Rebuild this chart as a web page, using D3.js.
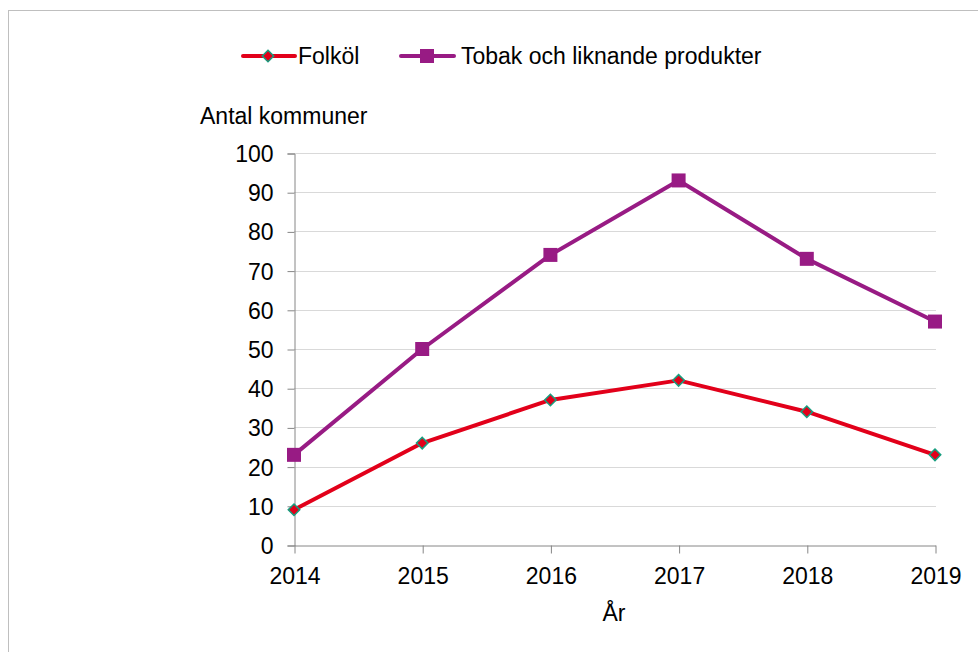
<!DOCTYPE html>
<html><head><meta charset="utf-8">
<script src="https://cdn.jsdelivr.net/npm/d3@7"></script>
<style>body{margin:0;background:#fff;}svg{display:block;}text{font-family:"Liberation Sans",Arial,sans-serif;fill:#000;}</style>
</head><body>
<svg id="c" width="978" height="652"></svg>
<script>
const years = [2014, 2015, 2016, 2017, 2018, 2019];
const folkol = [9, 26, 37, 42, 34, 23];
const tobak = [23, 50, 74, 93, 73, 57];
const yTicks = [0, 10, 20, 30, 40, 50, 60, 70, 80, 90, 100];
const seriesNames = ["Folköl", "Tobak och liknande produkter"];
const yTitle = "Antal kommuner";
const xTitle = "År";

const svg = d3.select("#c");
const fs = 23;
const ff = "Liberation Sans";
svg.append("rect").attr("x", 8.5).attr("y", 10.5).attr("width", 1000).attr("height", 700)
  .attr("fill", "#fff").attr("stroke", "#bfbfbf");

const x = d3.scalePoint().domain(years).range([294, 935]);
const y = d3.scaleLinear().domain([0, 100]).range([545, 153]);

// gridlines
svg.append("g").selectAll("line").data(yTicks.filter(d => d > 0)).join("line")
  .attr("x1", 294).attr("x2", 936).attr("y1", d => Math.round(y(d)) + 0.5).attr("y2", d => Math.round(y(d)) + 0.5)
  .attr("stroke", "#d9d9d9").attr("stroke-width", 1);

// y axis
const ya = svg.append("g").attr("transform", "translate(294.5,0.5)")
  .call(d3.axisLeft(y).tickValues(yTicks).tickSize(7).tickPadding(14));
ya.select(".domain").attr("stroke", "#868686");
ya.selectAll(".tick line").attr("stroke", "#868686");
ya.selectAll("text").style("font-size", fs + "px").style("font-family", ff).attr("fill", "#000").attr("dy", "0.35em");

// x axis
const xa = svg.append("g").attr("transform", "translate(0.5,545.5)")
  .call(d3.axisBottom(x).tickSize(8).tickPadding(14).tickFormat(d => String(d)).tickSizeOuter(0));
xa.select(".domain").attr("stroke", "#868686");
xa.selectAll(".tick line").attr("stroke", "#868686");
xa.selectAll("text").style("font-size", fs + "px").style("font-family", ff).attr("fill", "#000");

svg.append("text").attr("x", 200).attr("y", 124).style("font-size", fs + "px").text(yTitle);
svg.append("text").attr("x", 614).attr("y", 621).attr("text-anchor", "middle").style("font-size", fs + "px").text(xTitle);

const line = d3.line().x((d, i) => x(years[i])).y(d => y(d));
const red = "#e2001a", purple = "#981b84", teal = "#169e7f";

svg.append("path").datum(tobak).attr("d", line).attr("fill", "none").attr("stroke", purple).attr("stroke-width", 4).attr("stroke-linejoin", "round");
svg.append("path").datum(folkol).attr("d", line).attr("fill", "none").attr("stroke", red).attr("stroke-width", 4).attr("stroke-linejoin", "round");

const sq = d3.symbol().type(d3.symbolSquare).size(196);
const dia = d3.symbol().type(d3.symbolSquare).size(66);
svg.append("g").selectAll("path").data(tobak).join("path")
  .attr("transform", (d, i) => `translate(${x(years[i])},${y(d)})`).attr("d", sq).attr("fill", purple);
svg.append("g").selectAll("path").data(folkol).join("path")
  .attr("transform", (d, i) => `translate(${x(years[i])},${y(d)}) rotate(45)`).attr("d", dia)
  .attr("fill", red).attr("stroke", teal).attr("stroke-width", 1.5);

// legend
const lg = svg.append("g");
lg.append("line").attr("x1", 243).attr("x2", 295).attr("y1", 56).attr("y2", 56).attr("stroke", red).attr("stroke-width", 4).attr("stroke-linecap", "round");
lg.append("path").attr("transform", "translate(268,56) rotate(45)").attr("d", dia).attr("fill", red).attr("stroke", teal).attr("stroke-width", 1.5);
lg.append("text").attr("x", 298).attr("y", 64).style("font-size", fs + "px").text(seriesNames[0]);
lg.append("line").attr("x1", 401).attr("x2", 454).attr("y1", 56).attr("y2", 56).attr("stroke", purple).attr("stroke-width", 4).attr("stroke-linecap", "round");
lg.append("path").attr("transform", "translate(427,56)").attr("d", sq).attr("fill", purple);
lg.append("text").attr("x", 461).attr("y", 64).style("font-size", fs + "px").text(seriesNames[1]);
</script>
</body></html>
